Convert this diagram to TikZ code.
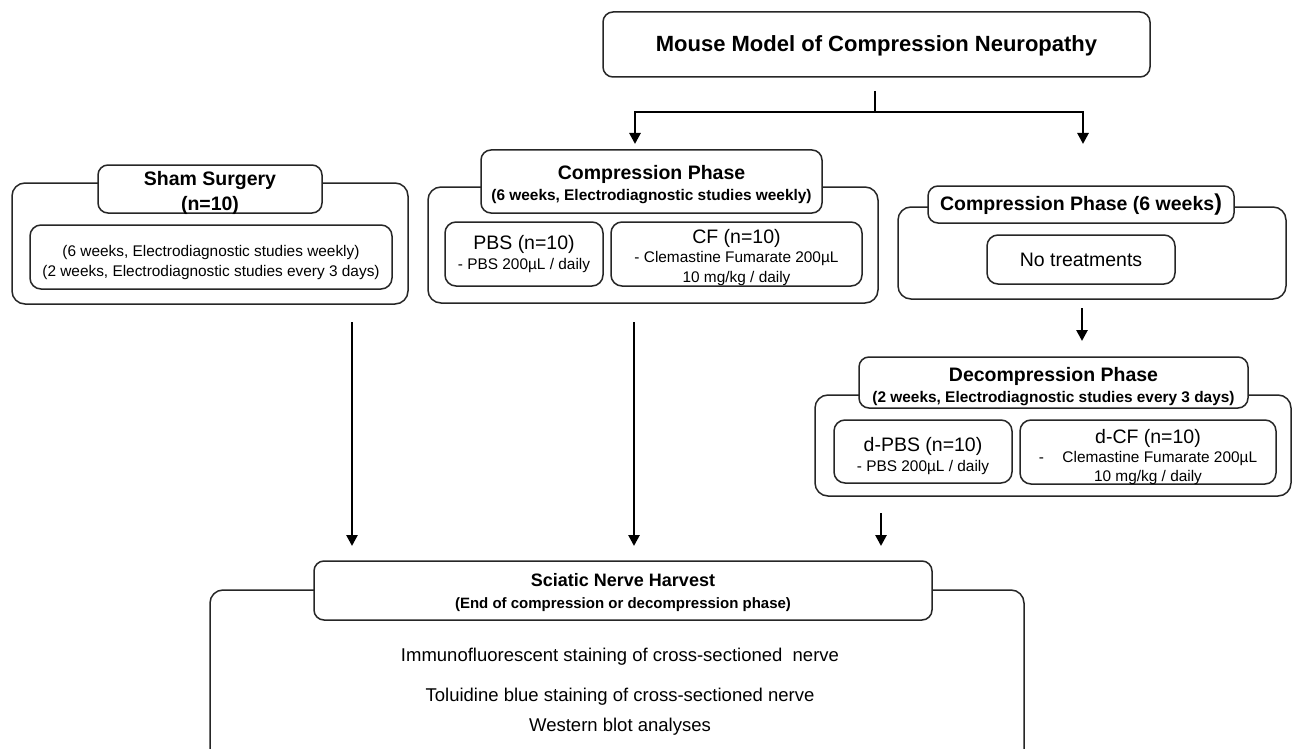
\documentclass[tikz,border=0pt]{standalone}
\usepackage{fontspec}
\setmainfont{Liberation Sans}
\usetikzlibrary{arrows.meta}
\newcommand\szBig{\fontsize{22}{26}\selectfont}
\newcommand\szHead{\fontsize{19.5}{21.5}\selectfont}
\newcommand\szSub{\fontsize{15.4}{20}\selectfont}
\newcommand\szBody{\fontsize{18.5}{22}\selectfont}
\tikzset{
  outerbox/.style={draw=black!85, line width=1.5pt, rounded corners=13pt, inner sep=0pt, fill=white},
  titlebox/.style={draw=black!85, line width=1.5pt, rounded corners=10pt, fill=white, inner sep=0pt},
  subbox/.style={draw=black!85, line width=1.5pt, rounded corners=11pt, fill=white, inner sep=0pt},
  txt/.style={align=center, inner sep=0pt},
  conn/.style={line width=2.6pt, black},
  arr/.style={line width=2.6pt, black, -{Triangle[width=11pt,length=11pt]}},
}
\begin{document}
\begin{tikzpicture}[x=1pt,y=-1pt]
\useasboundingbox (0,0) rectangle (1293,749);
\clip (0,0) rectangle (1293,749);

% top
\node[titlebox, minimum width=547pt, minimum height=65pt] (top) at (876.5,44.5) {};
\node[txt, font=\bfseries\szBig, yshift=-1pt] (topt) at (top) {Mouse Model of Compression Neuropathy};

% sham
\node[outerbox, minimum width=396pt, minimum height=121pt] (shamout) at (210,243.5) {};
\node[titlebox, minimum width=224pt, minimum height=48pt] (shamtitle) at (210,189) {};
\node[txt, font=\bfseries\szHead, yshift=-4pt] (shamtitlet) at (shamtitle) {Sham Surgery\\[3pt] (n=10)};
\node[subbox, minimum width=362pt, minimum height=64pt] (shamin) at (211,257) {};
\node[txt, font=\szSub, yshift=-5.5pt] (shamint) at (shamin) {(6 weeks, Electrodiagnostic studies weekly)\\ (2 weeks, Electrodiagnostic studies every 3 days)};

% middle compression
\node[outerbox, minimum width=450pt, minimum height=116pt] (compout) at (653,245) {};
\node[titlebox, minimum width=341pt, minimum height=63pt] (comptitle) at (651.5,181.5) {};
\node[txt, font=\bfseries\szHead, yshift=-3pt] (comptitlet) at (comptitle) {Compression Phase\\[-1pt] {\szSub (6 weeks, Electrodiagnostic studies weekly)}};
\node[subbox, minimum width=158pt, minimum height=64pt] (pbs) at (524,254) {};
\node[txt, font=\szHead] (pbst) at (pbs) {PBS (n=10)\\[-1pt] {\szSub - PBS 200µL / daily}};
\node[subbox, minimum width=251pt, minimum height=64pt] (cf) at (736.5,254) {};
\node[txt, font=\szSub, yshift=-3.5pt] (cft) at (cf) {{\szHead CF (n=10)}\\[-1pt] - Clemastine Fumarate 200µL\\[0pt] 10 mg/kg / daily};

% right compression
\node[outerbox, minimum width=388pt, minimum height=92pt] (rcompout) at (1092,253) {};
\node[titlebox, minimum width=306pt, minimum height=37pt] (rcomptitle) at (1081,204.5) {};
\node[txt, font=\bfseries\szHead] (rcomptitlet) at (rcomptitle) {Compression Phase (6 weeks{\fontsize{23}{23}\selectfont )}};
\node[subbox, minimum width=188pt, minimum height=49pt] (notreat) at (1081,259.5) {};
\node[txt, font=\szHead] (notreatt) at (notreat) {No treatments};

% decompression
\node[outerbox, minimum width=476pt, minimum height=101pt] (decout) at (1053,445.5) {};
\node[titlebox, minimum width=389pt, minimum height=51pt] (dectitle) at (1053.5,382.5) {};
\node[txt, font=\bfseries\szHead, yshift=-4pt] (dectitlet) at (dectitle) {Decompression Phase\\[-1pt] {\szSub (2 weeks, Electrodiagnostic studies every 3 days)}};
\node[subbox, minimum width=178pt, minimum height=63pt] (dpbs) at (923,451.5) {};
\node[txt, font=\szHead, yshift=-4.5pt] (dpbst) at (dpbs) {d-PBS (n=10)\\[-1pt] {\szSub - PBS 200µL / daily}};
\node[subbox, minimum width=256pt, minimum height=64pt] (dcf) at (1148,452) {};
\node[txt, font=\szSub, yshift=-5pt] (dcft) at (dcf) {{\szHead d-CF (n=10)}\\[-1pt] -\hspace{1.2em}Clemastine Fumarate 200µL\\[-1pt] 10 mg/kg / daily};

% harvest
\node[outerbox, minimum width=814pt, minimum height=180pt] (harvout) at (617,680) {};
\node[titlebox, minimum width=618pt, minimum height=59pt] (harvtitle) at (623,590.5) {};
\node[txt, font=\bfseries\fontsize{18}{22}\selectfont, yshift=-2pt] (harvtitlet) at (harvtitle) {Sciatic Nerve Harvest\\[0pt] {\fontsize{15}{18}\selectfont (End of compression or decompression phase)}};
\node[txt, font=\szBody] (l1) at (620,657) {Immunofluorescent staining of cross-sectioned\ \ nerve};
\node[txt, font=\szBody] (l2) at (620,697) {Toluidine blue staining of cross-sectioned nerve};
\node[txt, font=\szBody] (l3) at (620,727) {Western blot analyses};

% connectors
\coordinate (stemtop) at (875,91);
\coordinate (junc) at (875,112);
\coordinate (lend) at (635,144);
\coordinate (rend) at (1083,144);
\draw[conn] (stemtop) -- (junc);
\draw[arr] (junc) -| (lend);
\draw[arr] (junc) -| (rend);

\coordinate (r1s) at (1082,308);
\coordinate (r1e) at (1082,341);
\draw[arr] (r1s) -- (r1e);

\coordinate (d1s) at (881,513);
\coordinate (d1e) at (881,546);
\draw[arr] (d1s) -- (d1e);

\coordinate (s1s) at (352,322);
\coordinate (s1e) at (352,546);
\draw[arr] (s1s) -- (s1e);

\coordinate (c1s) at (634,322);
\coordinate (c1e) at (634,546);
\draw[arr] (c1s) -- (c1e);
\end{tikzpicture}
\end{document}
